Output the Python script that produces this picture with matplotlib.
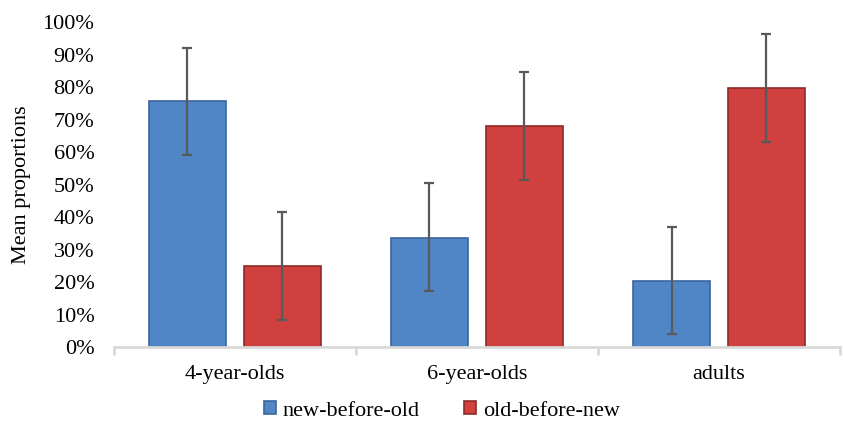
import numpy as np
import matplotlib
matplotlib.use("Agg")
import matplotlib.pyplot as plt
from matplotlib.ticker import PercentFormatter

# values (proportions)
groups = ["4-year-olds", "6-year-olds", "adults"]
new_before_old = [0.757, 0.335, 0.204]
old_before_new = [0.250, 0.680, 0.798]
new_err_low = [0.167, 0.163, 0.164]
new_err_high = [0.163, 0.170, 0.166]
old_err_low = [0.167, 0.166, 0.168]
old_err_high = [0.165, 0.166, 0.166]
series_names = ["new-before-old", "old-before-new"]

plt.rcParams["font.family"] = "Liberation Serif"
plt.rcParams["font.size"] = 16

fig = plt.figure(figsize=(8.43, 4.28), dpi=100)
ax = fig.add_axes([0.135, 0.189, 0.8615, 0.7596])

x = np.arange(len(groups))
width = 0.318
offset = 0.196

blue = "#5086C6"
red = "#CF403F"
ax.bar(x - offset, new_before_old, width, color=blue, edgecolor="#3A659E",
       linewidth=1.2, label=series_names[0], zorder=2)
ax.bar(x + offset, old_before_new, width, color=red, edgecolor="#8E2A28",
       linewidth=1.2, label=series_names[1], zorder=2)

err_kw = dict(fmt="none", ecolor="#595959", elinewidth=1.6, capsize=3.6,
              capthick=1.6, zorder=3)
ax.errorbar(x - offset, new_before_old, yerr=[new_err_low, new_err_high], **err_kw)
ax.errorbar(x + offset, old_before_new, yerr=[old_err_low, old_err_high], **err_kw)

ax.set_xlim(-0.5, len(groups) - 0.5)
ax.set_ylim(0, 1)
ax.set_yticks(np.arange(0, 1.01, 0.1))
ax.yaxis.set_major_formatter(PercentFormatter(1.0, decimals=0))
ax.set_ylabel("Mean proportions", fontsize=16, labelpad=8)

ax.set_xticks(x)
ax.set_xticklabels(groups)
ax.set_xticks(np.arange(-0.5, len(groups)), minor=True)
ax.tick_params(axis="x", which="major", length=0, pad=13)
ax.tick_params(axis="x", which="minor", length=6, width=2, color="#d9d9d9")
ax.tick_params(axis="y", length=0, pad=14)

for side in ["top", "right", "left"]:
    ax.spines[side].set_visible(False)
ax.spines["bottom"].set_color("#d9d9d9")
ax.spines["bottom"].set_linewidth(2)

fig.legend(loc="center", bbox_to_anchor=(0.524, 0.04), ncol=2, frameon=False,
           handlelength=0.55, handleheight=0.55, handletextpad=0.3,
           columnspacing=2.0, fontsize=16)

fig.savefig("out.png", dpi=100)
